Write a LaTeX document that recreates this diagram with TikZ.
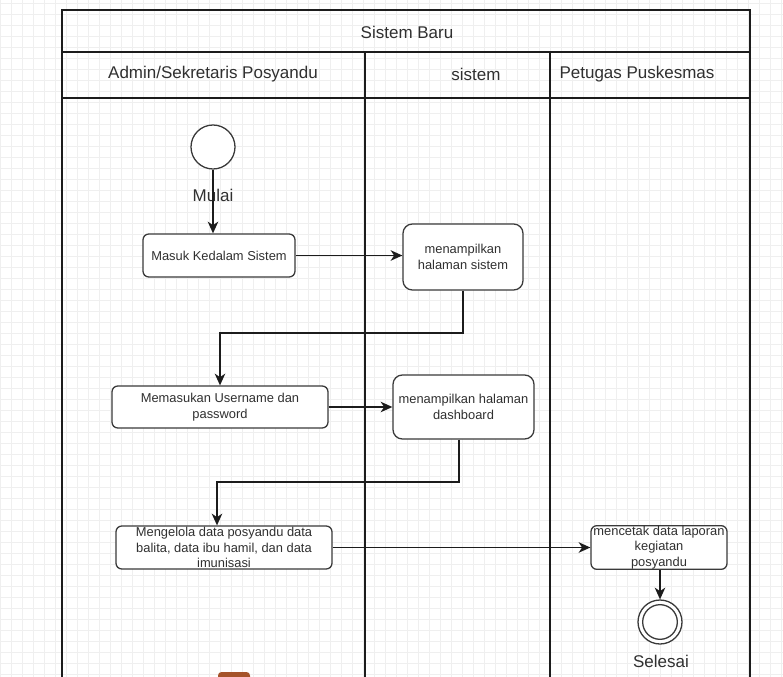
\documentclass[tikz,border=0pt]{standalone}
\usepackage{fontspec}
\setmainfont{Liberation Sans}
\usetikzlibrary{positioning}
\usetikzlibrary{arrows.meta}
\definecolor{gridfaint}{HTML}{EFEFEF}
\definecolor{inkdark}{HTML}{1C1C1C}
\definecolor{boxline}{HTML}{3A3A3A}
\definecolor{textgray}{HTML}{303030}
\definecolor{tabbrown}{HTML}{A5532A}
\tikzset{
    gridfine/.style={line width=0.5pt, draw=gridfaint}, % background grid of the editor
    lane/.style={line width=1.8pt, draw=inkdark, line cap=rect}, % pool and lane borders
    header/.style={font=\fontsize{14.5}{17}\selectfont, text=textgray, inner sep=0pt},
    activity/.style={ % action boxes
        draw=boxline,
        line width=1.1pt,
        fill=white,
        rounded corners=5pt,
        align=center,
        inner sep=0pt,
        font=\fontsize{11}{13.5}\selectfont,
        text=textgray
    },
    startstate/.style={circle, draw=boxline, line width=1.1pt, fill=white, minimum size=1.32cm, inner sep=0pt},
    flow/.style={draw=inkdark, line width=1.25pt, -{Stealth[length=10pt,width=9pt,inset=3pt]}}
}

\begin{document}
\begin{tikzpicture}[x=0.03cm, y=-0.03cm]
    \useasboundingbox (0,0) rectangle (783,677);
    \fill[white] (0,0) rectangle (783,677);
    % grid
    \foreach \gx in {0,...,71}
        \draw[gridfine] ({0.7+11*\gx},0) -- ({0.7+11*\gx},677);
    \foreach \gy in {0,...,61}
        \draw[gridfine] (0,{3+11*\gy}) -- (783,{3+11*\gy});

    % pool and lanes
    \draw[lane] (62,677) -- (62,10) -- (750,10) -- (750,677);
    \draw[lane] (62,52) -- (750,52);
    \draw[lane] (62,98) -- (750,98);
    \draw[lane] (365,52) -- (365,677);
    \draw[lane] (550,52) -- (550,677);

    \node[header] (title) at (407,32) {Sistem Baru};
    \node[header] (laneAdmin) at (213,74) {Admin/Sekretaris Posyandu};
    \node[header] (laneSistem) at (476,74) {sistem};
    \node[header] (lanePetugas) at (637,74) {Petugas Puskesmas};

    % activities
    \node[startstate] (start) at (213,147) {};
    \node[header] (mulai) at (213,195) {Mulai};
    \node[activity, minimum width=4.56cm, minimum height=1.29cm] (masuk) at (219,255.5) {Masuk Kedalam Sistem};
    \node[activity, rounded corners=8pt, minimum width=3.6cm, minimum height=1.98cm] (tampil) at (463,257) {menampilkan\\halaman sistem};
    \node[activity, minimum width=6.48cm, minimum height=1.26cm] (login) at (220,407) {Memasukan Username dan\\password};
    \node[activity, rounded corners=8pt, minimum width=4.23cm, minimum height=1.92cm] (dash) at (463.5,407) {menampilkan halaman\\dashboard};
    \node[activity, minimum width=6.48cm, minimum height=1.29cm] (kelola) at (224,547.5) {Mengelola data posyandu data\\balita, data ibu hamil, dan data\\imunisasi};
    \node[activity, minimum width=4.08cm, minimum height=1.29cm] (cetak) at (659,547.5) {mencetak data laporan\\kegiatan\\posyandu};
    \node[startstate] (stop) at (660,622) {};
    \node[circle, draw=boxline, line width=1.1pt, minimum size=1.04cm, inner sep=0pt] (stopInner) at (660,622) {};
    \node[header] (selesai) at (661,661) {Selesai};

    \coordinate (turnA) at (463,333);
    \coordinate (turnB) at (459,482);
    \coordinate (turnC) at (217,482);

    % flows
    \draw[flow] (start.south) -- (start.south |- masuk.north);
    \draw[flow] (masuk.east) -- (masuk.east -| tampil.west);
    \draw[flow] (tampil.south) -- (turnA) -| (login.north);
    \draw[flow] (login.east) -- (dash.west);
    \draw[flow] (turnB |- dash.south) -- (turnB) -- (turnC) -- (turnC |- kelola.north);
    \draw[flow] (kelola.east) -- (cetak.west);
    \draw[flow] (cetak.south -| stop.north) -- (stop.north);

    % tab peeking in at the bottom edge
    \fill[tabbrown, rounded corners=3pt] (218,686) rectangle (250,672);
\end{tikzpicture}
\end{document}
